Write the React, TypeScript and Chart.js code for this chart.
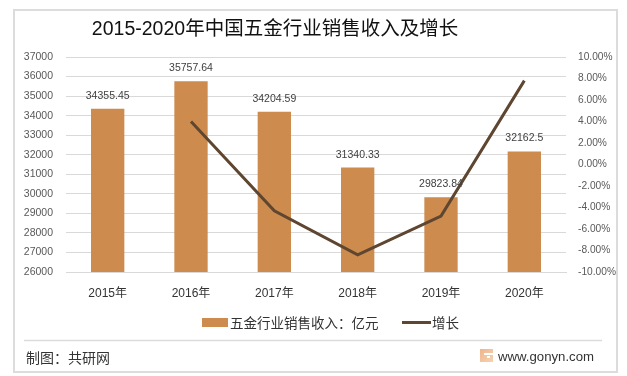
import React, { useEffect, useRef } from "react";
import { Chart, registerables } from "chart.js";

Chart.register(...registerables);

const categories = ["2015年", "2016年", "2017年", "2018年", "2019年", "2020年"];
const revenue = [34355.45, 35757.64, 34204.59, 31340.33, 29823.84, 32162.5];
const growth = [null, 4.0, -4.3, -8.4, -4.8, 7.8];
const barLabels = ["34355.45", "35757.64", "34204.59", "31340.33", "29823.84", "32162.5"];
const titleText = "2015-2020年中国五金行业销售收入及增长";
const sourceText = "制图：共研网";
const siteText = "www.gonyn.com";
const seriesNames = ["五金行业销售收入：亿元", "增长"];

const FONT = '"Liberation Sans", "Noto Sans CJK SC", sans-serif';
const CJK = '"Noto Sans CJK SC", sans-serif';
const BAR = "#CD8B4E";
const LINE = "#5E4630";

const decor = {
  id: "decor",
  beforeDraw(chart: any) {
    const c = chart.ctx;
    c.save();
    c.fillStyle = "#fff";
    c.fillRect(0, 0, 627, 376);
    c.strokeStyle = "#DCDCDC";
    c.lineWidth = 2;
    c.strokeRect(14, 10, 603, 362);
    c.lineWidth = 1.5;
    c.beginPath();
    c.moveTo(24, 340.5);
    c.lineTo(602, 340.5);
    c.stroke();
    c.restore();
  },
  afterDraw(chart: any) {
    const c = chart.ctx;
    c.save();
    c.textBaseline = "middle";
    // title
    c.textAlign = "center";
    c.fillStyle = "#111";
    c.font = `19.5px ${FONT}`;
    c.fillText(titleText, 275, 30);
    // bar value labels
    const meta = chart.getDatasetMeta(0);
    c.font = `10.5px ${FONT}`;
    c.fillStyle = "#404040";
    meta.data.forEach((el: any, i: number) => {
      c.fillText(barLabels[i], el.x, el.y - 13);
    });
    // legend
    c.textAlign = "left";
    c.fillStyle = BAR;
    c.fillRect(202, 318, 26, 9);
    c.fillStyle = "#333";
    c.font = `13.5px ${CJK}`;
    c.fillText(chart.data.datasets[0].label, 230, 323);
    c.strokeStyle = LINE;
    c.lineWidth = 3;
    c.beginPath();
    c.moveTo(402, 322.5);
    c.lineTo(431, 322.5);
    c.stroke();
    c.fillStyle = "#333";
    c.fillText(chart.data.datasets[1].label, 432, 323);
    // footer
    c.fillStyle = "#333";
    c.font = `14px ${CJK}`;
    c.fillText(sourceText, 26, 358);
    c.font = `13.2px "Liberation Sans", sans-serif`;
    c.fillText(siteText, 498, 357);
    const g = c.createLinearGradient(480, 349, 493, 362);
    g.addColorStop(0, "#F0B48C");
    g.addColorStop(1, "#F5D3B0");
    c.fillStyle = g;
    c.fillRect(480, 349, 13, 13);
    c.fillStyle = "#fff";
    c.fillRect(484, 353, 9, 2);
    c.fillRect(487, 356, 3, 2);
    c.restore();
  },
};

export default function App() {
  const ref = useRef<HTMLCanvasElement | null>(null);
  useEffect(() => {
    const chart = new Chart(ref.current!, {
      type: "bar",
      data: {
        labels: categories,
        datasets: [
          {
            type: "bar",
            label: seriesNames[0],
            data: revenue,
            yAxisID: "y",
            backgroundColor: BAR,
            categoryPercentage: 1,
            barPercentage: 0.4,
            order: 1,
          },
          {
            type: "line",
            label: seriesNames[1],
            data: growth,
            yAxisID: "y2",
            borderColor: LINE,
            backgroundColor: LINE,
            borderWidth: 3,
            pointRadius: 0,
            tension: 0,
            order: 0,
          },
        ] as any,
      },
      options: {
        animation: false,
        responsive: false,
        layout: { padding: { top: 57, left: 0, right: 0, bottom: 0 } },
        plugins: { legend: { display: false }, tooltip: { enabled: false }, title: { display: false } },
        scales: {
          x: {
            grid: { display: false, drawTicks: false },
            border: { color: "#D9D9D9" },
            ticks: { color: "#333", font: { size: 12, family: FONT }, padding: 14, maxRotation: 0 },
            afterFit: (s: any) => { s.height = 104; },
          },
          y: {
            position: "left",
            min: 26000,
            max: 37000,
            grid: { color: "#D9D9D9", drawTicks: false },
            border: { display: false },
            ticks: {
              stepSize: 1000,
              color: "#595959",
              font: { size: 10.5, family: FONT },
              padding: 13,
              callback: (v: any) => String(v),
            },
            afterFit: (s: any) => { s.width = 66; },
          },
          y2: {
            position: "right",
            min: -10,
            max: 10,
            grid: { display: false, drawTicks: false },
            border: { display: false },
            ticks: {
              stepSize: 2,
              color: "#595959",
              font: { size: 10.2, family: FONT },
              padding: 12,
              callback: (v: any) => Number(v).toFixed(2) + "%",
            },
            afterFit: (s: any) => { s.width = 61; },
          },
        },
      } as any,
      plugins: [decor],
    });
    return () => chart.destroy();
  }, []);
  return (
    <div style={{ position: "absolute", left: 0, top: 0, width: 627, height: 376, background: "#fff" }}>
      <canvas ref={ref} width={627} height={376} style={{ display: "block" }} />
    </div>
  );
}
